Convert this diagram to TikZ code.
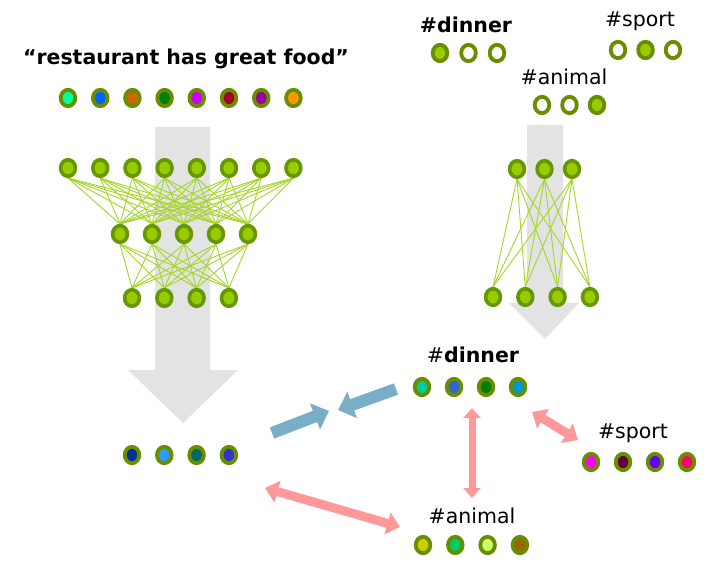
\documentclass[tikz,border=0pt]{standalone}
\usepackage{fontspec}
\setmainfont{DejaVu Sans}
\usetikzlibrary{shapes.geometric,arrows.meta}

\newlength{\du}
\setlength{\du}{1pt}
\newcommand{\tagfont}{\fontsize{20.5}{24}\selectfont}

\definecolor{flowgray}{RGB}{227,227,227}
\definecolor{embring}{RGB}{104,142,0}
\definecolor{cellring}{RGB}{102,150,0}
\definecolor{cellcolor}{RGB}{153,204,0}
\definecolor{linkcolor}{RGB}{164,214,40}
\definecolor{arrowblue}{RGB}{121,174,200}
\definecolor{arrowpink}{RGB}{255,153,153}
% word vectors
\definecolor{w1}{RGB}{0,255,153}
\definecolor{w2}{RGB}{0,102,255}
\definecolor{w3}{RGB}{204,102,0}
\definecolor{w4}{RGB}{0,128,0}
\definecolor{w5}{RGB}{204,0,255}
\definecolor{w6}{RGB}{165,0,33}
\definecolor{w7}{RGB}{153,0,153}
\definecolor{w8}{RGB}{255,153,0}
% sentence vector
\definecolor{o1}{RGB}{0,51,153}
\definecolor{o2}{RGB}{51,153,255}
\definecolor{o3}{RGB}{0,102,102}
\definecolor{o4}{RGB}{51,51,204}
% hashtag vectors
\definecolor{d1}{RGB}{0,204,153}
\definecolor{d2}{RGB}{51,102,204}
\definecolor{d3}{RGB}{0,128,0}
\definecolor{d4}{RGB}{0,153,204}
\definecolor{s1}{RGB}{255,0,255}
\definecolor{s2}{RGB}{102,0,51}
\definecolor{s3}{RGB}{102,0,255}
\definecolor{s4}{RGB}{255,0,102}
\definecolor{a1}{RGB}{204,204,0}
\definecolor{a2}{RGB}{0,204,102}
\definecolor{a3}{RGB}{204,255,102}
\definecolor{a4}{RGB}{153,102,0}

\pgfdeclarelayer{bg}
\pgfsetlayers{bg,main}

\tikzset{
  neuron/.style={ellipse, draw=cellring, line width=3.6\du, fill=cellcolor,
    minimum width=14.8\du, minimum height=16.6\du, inner sep=0pt},
  emb/.style={ellipse, draw=embring, line width=3.8\du,
    minimum width=14.6\du, minimum height=16.4\du, inner sep=0pt},
  link/.style={draw=linkcolor, line width=0.9\du},
  tag/.style={font=\tagfont, anchor=base},
  simarrow/.style={draw=arrowblue, line width=12\du,
    -{Triangle[width=27pt,length=15pt]}},
  distarrow/.style={draw=arrowpink, line width=9\du,
    {Triangle[width=22pt,length=13pt]}-{Triangle[width=22pt,length=13pt]}},
}

\begin{document}
\begin{tikzpicture}[x=\du, y=-\du]
\useasboundingbox (0,0) rectangle (728,569);

% sentence side
\node[tag, font=\tagfont\bfseries] (sentence) at (186,65) {“restaurant has great food”};
\foreach \c [count=\i] in {w1,w2,w3,w4,w5,w6,w7,w8}
  \node[emb, fill=\c] (word-\i) at ({68+32.2*(\i-1)},98) {};

\foreach \i in {1,...,8}
  \node[neuron] (l1-\i) at ({68+32.2*(\i-1)},168) {};
\foreach \i in {1,...,5}
  \node[neuron] (l2-\i) at ({120+32*(\i-1)},234) {};
\foreach \i in {1,...,4}
  \node[neuron] (l3-\i) at ({132+32.3*(\i-1)},298) {};

\foreach \c [count=\i] in {o1,o2,o3,o4}
  \node[emb, fill=\c] (sent-\i) at ({132+32.3*(\i-1)},455) {};

% hashtag side
\node[tag, font=\tagfont\bfseries] (dinner-top) at (466,33) {\#dinner};
\node[tag] (sport-top) at (640,27) {\#sport};
\node[tag] (animal-top) at (564,85) {\#animal};
\foreach \f [count=\i] in {cellcolor,white,white}
  \node[emb, fill=\f] (hot-d-\i) at ({440+28.5*(\i-1)},53) {};
\foreach \f [count=\i] in {white,cellcolor,white}
  \node[emb, fill=\f] (hot-s-\i) at ({618+27.5*(\i-1)},50) {};
\foreach \f [count=\i] in {white,white,cellcolor}
  \node[emb, fill=\f] (hot-a-\i) at ({542+27.5*(\i-1)},105) {};

\foreach \i in {1,...,3}
  \node[neuron] (r1-\i) at ({517+27.5*(\i-1)},169) {};
\foreach \i in {1,...,4}
  \node[neuron] (r2-\i) at ({493+32.3*(\i-1)},297) {};

% hashtag vectors
\node[tag] (dinner-lbl) at (473,362) {\#\textbf{dinner}};
\node[tag] (sport-lbl) at (633,438) {\#sport};
\node[tag] (animal-lbl) at (472,523) {\#animal};
\foreach \c [count=\i] in {d1,d2,d3,d4}
  \node[emb, fill=\c] (din-\i) at ({422+32*(\i-1)},387) {};
\foreach \c [count=\i] in {s1,s2,s3,s4}
  \node[emb, fill=\c] (spo-\i) at ({591+32*(\i-1)},462) {};
\foreach \c [count=\i] in {a1,a2,a3,a4}
  \node[emb, fill=\c] (ani-\i) at ({423+32.3*(\i-1)},545) {};

\begin{pgfonlayer}{bg}
% grey flow arrows
\fill[flowgray] (155,127) -- (210,127) -- (210,370) -- (238,370)
  -- (183,423) -- (128,370) -- (155,370) -- cycle;
\fill[flowgray] (527,125) -- (563,125) -- (563,303) -- (579,303)
  -- (545,339) -- (509,303) -- (527,303) -- cycle;
% fully connected layers
\foreach \i in {1,...,8}
  \foreach \j in {1,...,5}
    \draw[link] (l1-\i.south) -- (l2-\j.north);
\foreach \i in {1,...,5}
  \foreach \j in {1,...,4}
    \draw[link] (l2-\i.south) -- (l3-\j.north);
\foreach \i in {1,...,3}
  \foreach \j in {1,...,4}
    \draw[link] (r1-\i.south) -- (r2-\j.north);
\end{pgfonlayer}

% similarity arrows
\coordinate (sim-a) at (272,433);
\coordinate (sim-b) at (329,411);
\coordinate (sim-c) at (396,389);
\coordinate (sim-d) at (338,410);
\draw[simarrow] (sim-a) -- (sim-b);
\draw[simarrow] (sim-c) -- (sim-d);

\coordinate (far-a) at (265,488);
\coordinate (far-b) at (400,527);
\coordinate (far-c) at (472,408);
\coordinate (far-d) at (472,498);
\coordinate (far-e) at (532,412);
\coordinate (far-f) at (578,440);
\draw[distarrow] (far-a) -- (far-b);
\draw[distarrow, line width=7\du,
  {Triangle[width=17pt,length=10pt]}-{Triangle[width=17pt,length=10pt]}] (far-c) -- (far-d);
\draw[distarrow] (far-e) -- (far-f);
\end{tikzpicture}
\end{document}
